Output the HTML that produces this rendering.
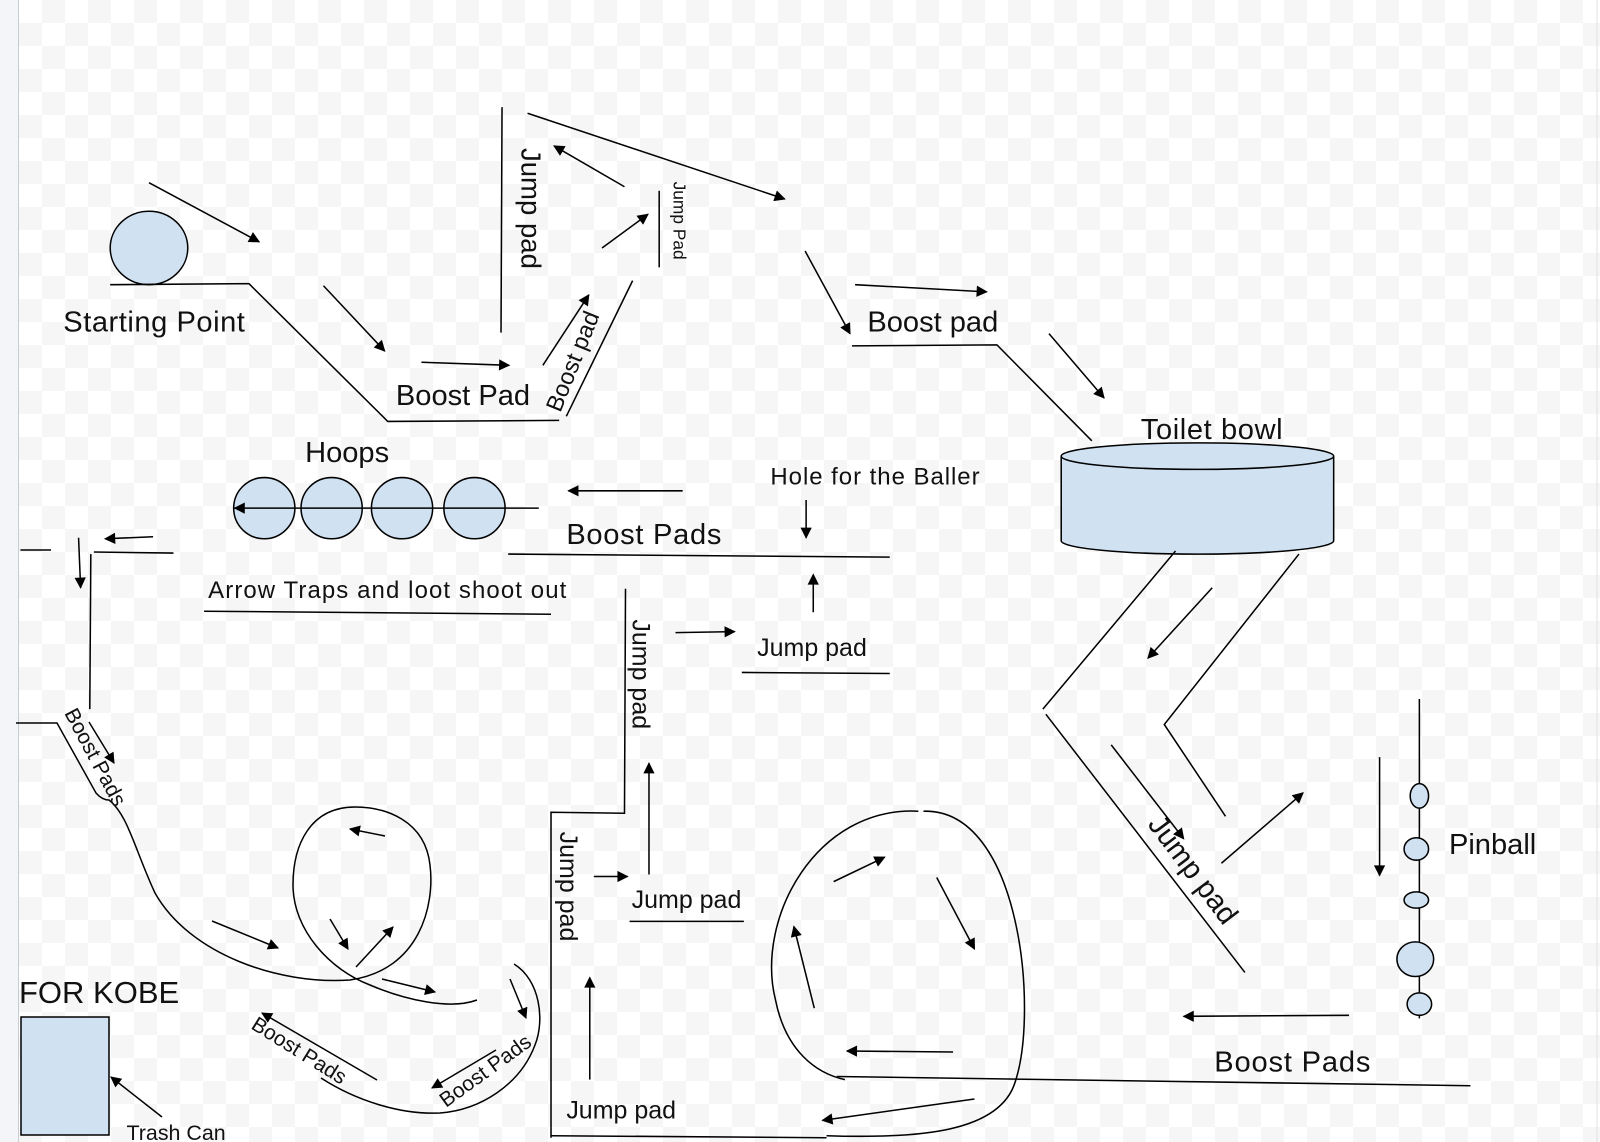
<!DOCTYPE html>
<html><head><meta charset="utf-8"><style>
html,body{margin:0;padding:0;background:#fff;}
svg{display:block;}
text{font-family:"Liberation Sans",Arial,sans-serif;fill:#111;}
</style></head><body>
<svg width="1600" height="1142" viewBox="0 0 1600 1142" xmlns="http://www.w3.org/2000/svg">
<defs>
<pattern id="chk" x="19" y="0" width="46" height="46" patternUnits="userSpaceOnUse">
<rect width="46" height="46" fill="#fff"/>
<rect x="23" y="0" width="23" height="23" fill="#f6f6f6"/>
<rect x="0" y="23" width="23" height="23" fill="#f6f6f6"/>
</pattern>
<marker id="a" viewBox="0 0 10 10" refX="9" refY="5" markerWidth="13" markerHeight="11" orient="auto" markerUnits="userSpaceOnUse">
<path d="M0,0 L10,5 L0,10 z" fill="#000"/>
</marker>
</defs>
<rect width="1600" height="1142" fill="url(#chk)"/>
<rect width="18" height="1142" fill="#f3f5f8"/>
<line x1="18.5" y1="0" x2="18.5" y2="1142" stroke="#c8ccd2"/>
<line x1="1597" y1="0" x2="1597" y2="1142" stroke="#e0e0e0"/>

<g transform="scale(1.0204)" fill="none" stroke="#000" stroke-width="1.5">
<ellipse cx="146" cy="243" rx="38" ry="36" fill="#d0e1f2"/>
<polyline points="108,279 244,278 380,413 548,412"/>
<line x1="555" y1="408" x2="620" y2="275"/>
<line x1="492" y1="105" x2="491" y2="326"/>
<line x1="646" y1="187" x2="646" y2="262"/>
<polyline points="835,339 977,338 1070,432"/>
<path d="M1040,447 L1040,530 A133,13 0 0 0 1307,530 L1307,447" fill="#d0e1f2"/>
<ellipse cx="1173.5" cy="447" rx="133.5" ry="13" fill="#d0e1f2"/>
<polyline points="1152,540 1022,695"/>
<polyline points="1025,700 1220,953"/>
<polyline points="1273,543 1141,710 1201,800"/>
<line x1="1391" y1="685" x2="1391" y2="998"/>
<ellipse cx="1391" cy="780" rx="9" ry="12" fill="#d0e1f2"/>
<ellipse cx="1388" cy="832" rx="12" ry="11" fill="#d0e1f2"/>
<ellipse cx="1388" cy="882" rx="12" ry="8" fill="#d0e1f2"/>
<ellipse cx="1387" cy="940" rx="18" ry="17" fill="#d0e1f2"/>
<ellipse cx="1391" cy="984" rx="12" ry="11" fill="#d0e1f2"/>
<line x1="820" y1="1055" x2="1441" y2="1064"/>
<path d="M900,795 C800,790 740,900 760,980 C770,1030 800,1052 828,1058"/>
<path d="M905,795 C1000,792 1018,990 995,1060 C980,1110 900,1116 810,1113"/>
<line x1="540" y1="1113" x2="810" y2="1115"/>
<polyline points="540,1115 540,796 612,797 613,577"/>
<line x1="617" y1="903" x2="729" y2="903"/>
<line x1="727" y1="659" x2="872" y2="660"/>
<line x1="498" y1="543" x2="872" y2="546"/>
<circle cx="259" cy="498" r="30" fill="#d0e1f2"/>
<circle cx="325" cy="498" r="30" fill="#d0e1f2"/>
<circle cx="394" cy="498" r="30" fill="#d0e1f2"/>
<circle cx="465" cy="498" r="30" fill="#d0e1f2"/>
<line x1="200" y1="599" x2="540" y2="602"/>
<line x1="20" y1="539" x2="50" y2="539"/>
<line x1="92" y1="541" x2="170" y2="542"/>
<line x1="89" y1="543" x2="88" y2="695"/>
<g marker-end="url(#a)">
<line x1="146" y1="179" x2="254" y2="237"/>
<line x1="317" y1="280" x2="377" y2="344"/>
<line x1="413" y1="355" x2="499" y2="358"/>
<line x1="532" y1="358" x2="577" y2="289"/>
<line x1="612" y1="183" x2="543" y2="143"/>
<line x1="590" y1="243" x2="635" y2="210"/>
<line x1="517" y1="111" x2="769" y2="195"/>
<line x1="789" y1="246" x2="833" y2="327"/>
<line x1="838" y1="279" x2="967" y2="286"/>
<line x1="1028" y1="327" x2="1082" y2="390"/>
<line x1="1188" y1="576" x2="1125" y2="645"/>
<line x1="1089" y1="730" x2="1160" y2="822"/>
<line x1="1197" y1="846" x2="1277" y2="777"/>
<line x1="1352" y1="742" x2="1352" y2="858"/>
<line x1="1322" y1="995" x2="1160" y2="996"/>
<line x1="817" y1="864" x2="867" y2="840"/>
<line x1="918" y1="860" x2="955" y2="930"/>
<line x1="798" y1="988" x2="778" y2="908"/>
<line x1="934" y1="1031" x2="830" y2="1030"/>
<line x1="955" y1="1077" x2="806" y2="1098"/>
<line x1="582" y1="859" x2="615" y2="859"/>
<line x1="636" y1="857" x2="636" y2="748"/>
<line x1="578" y1="1058" x2="578" y2="958"/>
<line x1="662" y1="620" x2="720" y2="619"/>
<line x1="797" y1="600" x2="797" y2="563"/>
<line x1="790" y1="490" x2="790" y2="527"/>
<line x1="669" y1="481" x2="557" y2="481"/>
<line x1="528" y1="498" x2="230" y2="498"/>
<line x1="150" y1="526" x2="103" y2="528"/>
<line x1="77" y1="527" x2="79" y2="576"/>
</g>
</g>

<g transform="scale(1.0204)" stroke="none">
<text x="62" y="325" font-size="28.5" textLength="178">Starting Point</text>
<text x="388" y="397" font-size="28.5">Boost Pad</text>
<text font-size="23" transform="translate(549,405) rotate(-68)">Boost pad</text>
<text font-size="27" transform="translate(511,145) rotate(90)">Jump pad</text>
<text font-size="17" transform="translate(660,178) rotate(90)">Jump Pad</text>
<text x="850" y="325" font-size="28.5">Boost pad</text>
<text x="1118" y="430" font-size="28.5" textLength="139">Toilet bowl</text>
<text font-size="28.5" transform="translate(1124,808) rotate(53)">Jump pad</text>
<text x="1420" y="837" font-size="28.5">Pinball</text>
<text x="1190" y="1050" font-size="28.5" textLength="153">Boost Pads</text>
<text font-size="24.5" transform="translate(549,815) rotate(90)">Jump pad</text>
<text font-size="24.5" transform="translate(620,607) rotate(90)">Jump pad</text>
<text x="619" y="890" font-size="24.5">Jump pad</text>
<text x="555" y="1096" font-size="24.5">Jump pad</text>
<text x="742" y="643" font-size="24.5">Jump pad</text>
<text x="755" y="475" font-size="23.5" textLength="205">Hole for the Baller</text>
<text x="555" y="533" font-size="28.5" textLength="152">Boost Pads</text>
<text x="299" y="453" font-size="28.5">Hoops</text>
<text x="204" y="586" font-size="23.5" textLength="351">Arrow Traps and loot shoot out</text>
<text x="124" y="1117" font-size="21">Trash Can</text>
</g>

<g fill="none" stroke="#000" stroke-width="1.5">
<path d="M16,723 L57,723 L96,793 Q102,800 109,800 C128,815 135,850 155,893 C190,955 280,985 350,980 C420,970 435,905 430,865 C425,820 385,807 355,807 C310,807 293,845 293,885 C293,930 330,970 370,985 C405,1000 450,1010 477,1000"/>
<path d="M514,964 C540,980 545,1020 535,1045 C520,1085 480,1110 440,1113 C400,1115 355,1100 321,1078"/>
<rect x="21" y="1017" width="88" height="118" fill="#d0e1f2"/>
<g marker-end="url(#a)">
<line x1="89" y1="722" x2="114" y2="763"/>
<line x1="385" y1="836" x2="350" y2="829"/>
<line x1="330" y1="919" x2="348" y2="949"/>
<line x1="356" y1="967" x2="393" y2="927"/>
<line x1="212" y1="921" x2="278" y2="948"/>
<line x1="382" y1="979" x2="435" y2="992"/>
<line x1="510" y1="979" x2="526" y2="1018"/>
<line x1="377" y1="1080" x2="262" y2="1013"/>
<line x1="496" y1="1050" x2="432" y2="1088"/>
<line x1="162" y1="1117" x2="111" y2="1077"/>
</g>
</g>
<g stroke="none">
<text font-size="21" transform="translate(64,713) rotate(62)">Boost Pads</text>
<text font-size="21" transform="translate(250,1028) rotate(32)">Boost Pads</text>
<text font-size="21" transform="translate(446,1108) rotate(-36)">Boost Pads</text>
<text x="19" y="1003" font-size="31">FOR KOBE</text>
</g>
</svg>
</body></html>
